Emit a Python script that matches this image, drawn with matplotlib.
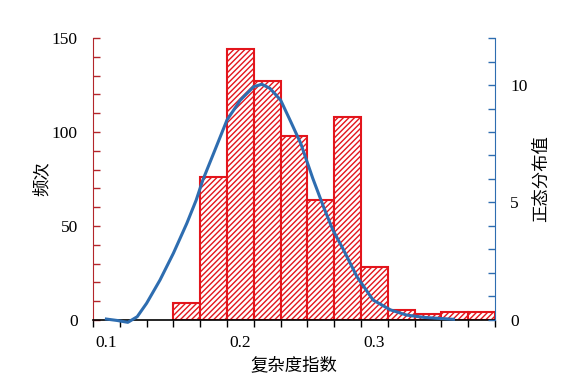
import numpy as np
import matplotlib
matplotlib.use('Agg')
import matplotlib.pyplot as plt
from matplotlib.ticker import MultipleLocator, FixedLocator

plt.rcParams['font.family'] = ['Liberation Serif', 'Noto Sans CJK SC', 'DejaVu Sans']
plt.rcParams['hatch.linewidth'] = 1.0

# histogram bins (left edges) and counts
bin_left = [0.15, 0.17, 0.19, 0.21, 0.23, 0.25, 0.27, 0.29, 0.31, 0.33, 0.35, 0.37]
counts = [9, 76, 144, 127, 98, 64, 108, 28, 5.5, 3.4, 4.3, 4.3]
bin_w = 0.02

# fitted curve (right axis)
curve_x = [0.100, 0.108, 0.116, 0.123, 0.130, 0.140, 0.150, 0.160, 0.167, 0.172,
           0.180, 0.190, 0.200, 0.210, 0.216, 0.222, 0.230, 0.237, 0.245, 0.254,
           0.262, 0.269, 0.277, 0.287, 0.299, 0.312, 0.324, 0.337, 0.359]
curve_y = [0.04, -0.02, -0.10, 0.14, 0.71, 1.70, 2.84, 4.11, 5.10, 5.96,
           7.09, 8.51, 9.36, 9.93, 10.03, 9.86, 9.36, 8.51, 7.52, 6.03,
           4.82, 3.83, 2.98, 1.84, 0.85, 0.43, 0.21, 0.11, 0.03]

red = '#e3151c'
dark_red = '#b3262b'
blue = '#2e6db0'

fig = plt.figure(figsize=(5.87, 3.77), dpi=100)
ax = fig.add_axes([0.1584, 0.1512, 0.6849, 0.748])

ax.bar(bin_left, counts, width=bin_w, align='edge', color='white',
       edgecolor=red, hatch='//////', linewidth=1.5, zorder=2)
ax.set_xlim(0.09, 0.39)
ax.set_ylim(0, 150)

ax.xaxis.set_major_locator(FixedLocator([0.1, 0.2, 0.3]))
ax.xaxis.set_minor_locator(FixedLocator(np.arange(0.09, 0.3901, 0.02)))
ax.set_xticklabels(['0.1', '0.2', '0.3'])
ax.tick_params(axis='x', which='major', length=0, pad=10.5, labelsize=12.5)
ax.tick_params(axis='x', which='minor', length=5, direction='out', width=1)

ax.yaxis.set_major_locator(MultipleLocator(50))
ax.yaxis.set_minor_locator(MultipleLocator(10))
ax.tick_params(axis='y', which='both', direction='in', length=5, width=1,
               color=dark_red, labelsize=12.5, pad=11)

ax.spines['top'].set_visible(False)
ax.spines['right'].set_visible(False)
ax.spines['left'].set_color(dark_red)
ax.spines['bottom'].set_linewidth(1.2)

ax.set_xlabel('复杂度指数', fontsize=12.5, labelpad=5)
ax.set_ylabel('频次', fontsize=12.5, labelpad=1)

ax2 = ax.twinx()
ax2.plot(curve_x, curve_y, color=blue, lw=2.2, clip_on=False, zorder=3)
ax2.set_ylim(0, 12)
ax2.yaxis.set_major_locator(MultipleLocator(5))
ax2.yaxis.set_minor_locator(MultipleLocator(1))
ax2.tick_params(axis='y', which='both', direction='in', length=5, width=1,
                color=blue, labelsize=12.5, pad=11)
for s in ['top', 'left', 'bottom']:
    ax2.spines[s].set_visible(False)
ax2.spines['right'].set_color(blue)
ax2.set_ylabel('正态分布值', fontsize=12.5, labelpad=4)

fig.savefig('out.png', dpi=100)
